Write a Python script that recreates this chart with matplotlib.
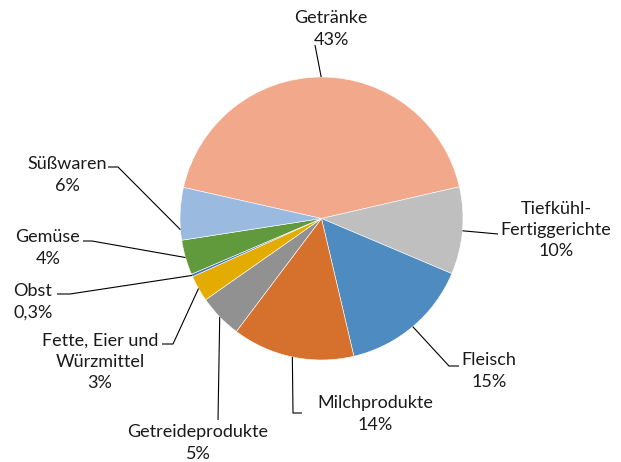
import numpy as np
import matplotlib
matplotlib.use("Agg")
import matplotlib.pyplot as plt

categories = ["Getränke", "Tiefkühl-\nFertiggerichte", "Fleisch", "Milchprodukte",
              "Getreideprodukte", "Fette, Eier und\nWürzmittel", "Obst", "Gemüse", "Süßwaren"]
pct_labels = ["43%", "10%", "15%", "14%", "5%", "3%", "0,3%", "4%", "6%"]
values = [43, 10, 15, 14, 5, 3, 0.3, 4, 6]
colors = ["#F1A88B", "#BFBFBF", "#4E8BC0", "#D5702D", "#919191",
          "#E5AC00", "#4472C4", "#619A3C", "#9ABAE0"]

W, H = 621, 462
cx, cy, R = 321.5, 218.5, 141.5

def d(px, py):
    return ((px - cx) / R, (cy - py) / R)

plt.rcParams['font.family'] = ['Lato', 'DejaVu Sans']
fig = plt.figure(figsize=(W / 100, H / 100), dpi=100)
ax = fig.add_axes([0, 0, 1, 1])
wedges, _ = ax.pie(values, colors=colors, startangle=167.3, counterclock=False,
                   radius=1, center=(0, 0),
                   wedgeprops=dict(edgecolor="white", linewidth=0.4))
ax.set_xlim((0 - cx) / R, (W - cx) / R)
ax.set_ylim((cy - H) / R, cy / R)
ax.set_aspect("equal")
ax.axis("off")

# layout: text centre (px), leader path points (px), anchor fraction along wedge
layout = [
    ((331, 29), [(315, 45)], 0.5),
    ((556, 230), [(498, 234)], 0.5),
    ((489, 371), [(449, 366), (459, 366)], 0.5),
    ((375, 414), [(293, 413), (302, 413)], 0.5),
    ((198, 443), [(218, 420)], 0.5),
    ((100, 362), [(173, 344), (162, 344)], 0.5),
    ((33, 302), [(70, 294), (57, 294)], 0.5),
    ((48, 248), [(92, 241), (83, 241)], 0.5),
    ((67, 175), [(118, 167), (108, 167)], 0.2),
]

for w, cat, pl, (tpos, path, frac) in zip(wedges, categories, pct_labels, layout):
    a = np.deg2rad(w.theta1 + (1 - frac) * (w.theta2 - w.theta1))
    xs = [np.cos(a)] + [d(*p)[0] for p in path]
    ys = [np.sin(a)] + [d(*p)[1] for p in path]
    ax.plot(xs, ys, color="black", lw=0.8, solid_capstyle="butt")
    tx, ty = d(*tpos)
    ax.text(tx, ty, cat + "\n" + pl, ha="center", va="center", fontsize=13.0,
            color="#1a1a1a", linespacing=1.42, multialignment="center")

fig.savefig("out.png", dpi=100)
